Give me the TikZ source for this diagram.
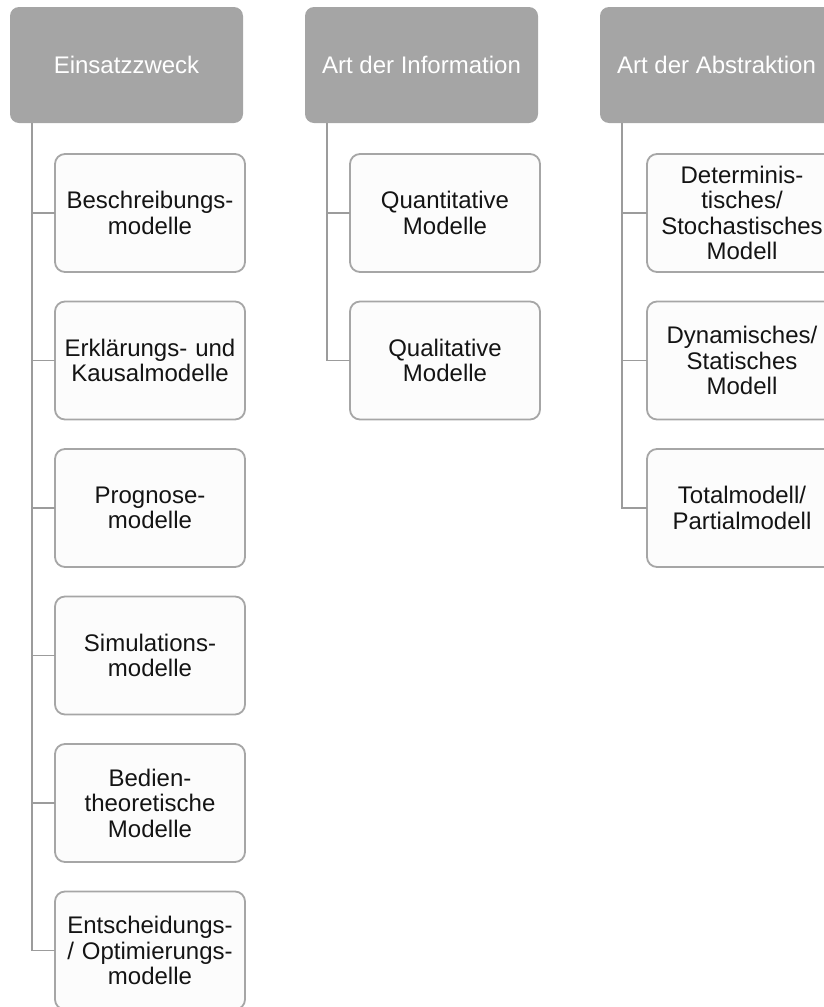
\documentclass[tikz,border=0pt]{standalone}
\usepackage{fontspec}
\setmainfont{Liberation Sans}
\definecolor{headfill}{HTML}{A5A5A5}
\definecolor{boxfill}{HTML}{FCFCFC}
\definecolor{boxline}{HTML}{A6A6A6}
\definecolor{wire}{HTML}{9C9C9C}
\definecolor{ink}{HTML}{141414}
\begin{document}
\begin{tikzpicture}[x=1pt,y=-1pt,
  headbox/.style={draw=none,fill=headfill,rounded corners=9pt,anchor=north west,
    minimum width=233pt,minimum height=116pt,inner sep=0pt,outer sep=0pt,
    text=white,align=center,font=\fontsize{24}{25.5}\selectfont},
  leafbox/.style={draw=boxline,line width=1.8pt,fill=boxfill,rounded corners=10pt,
    anchor=north west,minimum width=190pt,minimum height=118pt,inner sep=0pt,
    outer sep=0pt,text=ink,align=center,text width=188pt,
    font=\fontsize{24}{25.5}\selectfont},
  wireline/.style={draw=wire,line width=1.8pt}]
\useasboundingbox (0,0) rectangle (824,1007);
\clip (0,0) rectangle (824,1007);

% column headers
\node[headbox] (h1) at (10,7)  {Einsatzzweck};
\node[headbox] (h2) at (305,7) {Art der Information};
\node[headbox] (h3) at (600,7) {Art der Abstraktion};

% trunk positions below each header
\coordinate (v1) at (32,123);
\coordinate (v2) at (327,123);
\coordinate (v3) at (622,123);

% first column
\node[leafbox] (a1) at (55,154)   {Beschreibungs-\\modelle};
\node[leafbox] (a2) at (55,301.5) {Erklärungs- und\\Kausalmodelle};
\node[leafbox] (a3) at (55,449)   {Prognose-\\modelle};
\node[leafbox] (a4) at (55,596.5) {Simulations-\\modelle};
\node[leafbox] (a5) at (55,744)   {Bedien-\\theoretische\\Modelle};
\node[leafbox] (a6) at (55,891.5) {Entscheidungs-\\/ Optimierungs-\\modelle};

% second column
\node[leafbox] (b1) at (350,154)   {Quantitative\\Modelle};
\node[leafbox] (b2) at (350,301.5) {Qualitative\\Modelle};

% third column
\node[leafbox] (c1) at (647,154)   {Determinis-\\tisches/\\Stochastisches\\Modell};
\node[leafbox] (c2) at (647,301.5) {Dynamisches/\\Statisches\\Modell};
\node[leafbox] (c3) at (647,449)   {Totalmodell/\\Partialmodell};

% connectors
\draw[wireline] (v1) |- (a6.west);
\foreach \n in {a1,a2,a3,a4,a5} \draw[wireline] (\n.west -| v1) -- (\n.west);
\draw[wireline] (v2) |- (b2.west);
\draw[wireline] (b1.west -| v2) -- (b1.west);
\draw[wireline] (v3) |- (c3.west);
\foreach \n in {c1,c2} \draw[wireline] (\n.west -| v3) -- (\n.west);
\end{tikzpicture}
\end{document}
